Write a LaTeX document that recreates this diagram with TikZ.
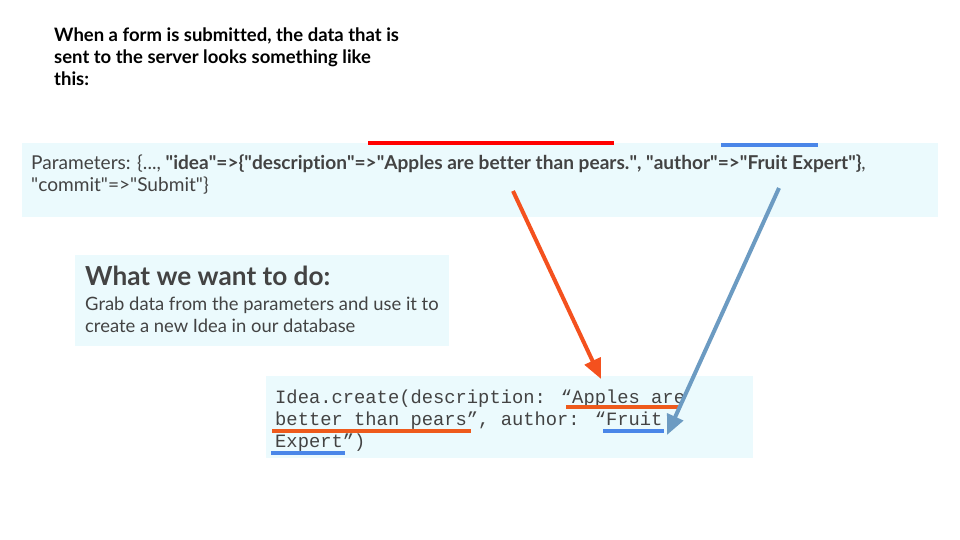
\documentclass[tikz,border=0pt]{standalone}
\usepackage{fontspec}
\setmainfont{Lato}[Ligatures=NoCommon]
\newfontfamily\codefont{Liberation Mono}
\usetikzlibrary{arrows.meta}
\newcommand\dq{\textquotedbl}
\definecolor{boxfill}{HTML}{EBFAFD}
\definecolor{txtgrey}{HTML}{434343}
\definecolor{arrorange}{HTML}{F4511E}
\definecolor{arrblue}{HTML}{6C9BC2}
\definecolor{ulblue}{HTML}{4A86E8}
\definecolor{ulorange}{HTML}{EE5A1C}
\tikzset{
  panel/.style={fill=boxfill, draw=none},
  txt/.style={anchor=north west, inner sep=0pt, align=left, text=txtgrey},
  bigarrow/.style={line width=4pt, -{Triangle[length=20pt,width=17pt]}},
  uline/.style={line width=3.5pt},
}
\begin{document}
\begin{tikzpicture}[x=1pt,y=-1pt]
\useasboundingbox (0,0) rectangle (960,540);
% title
\node[txt, text=black, font=\fontsize{18.5}{22}\selectfont\bfseries] (title) at (54,28)
  {When a form is submitted, the data that is\\sent to the server looks something like\\this:};
% parameters panel
\fill[panel] (22,143) rectangle (938,217);
\node[txt, font=\fontsize{19.1}{22}\selectfont] (params) at (31,155)
  {Parameters: \{..., \textbf{\dq idea\dq=>\{\dq description\dq=>\dq Apples are better than pears.\dq, \dq author\dq=>\dq Fruit Expert\dq\}},\\\dq commit\dq=>\dq Submit\dq\}};
\draw[red, line width=4pt] (368,143) coordinate (r1) -- (614,143) coordinate (r2);
\draw[ulblue, line width=4pt] (721,145) coordinate (b1) -- (818,145) coordinate (b2);
% what we want panel
\fill[panel] (75,255) rectangle (449,346);
\node[txt, font=\fontsize{26.2}{28}\selectfont\bfseries] (whathd) at (85,265.5) {What we want to do:};
\node[txt, font=\fontsize{18.4}{22}\selectfont] (whatbody) at (85,297)
  {Grab data from the parameters and use it to\\create a new Idea in our database};
% code panel
\fill[panel] (266,376) rectangle (753,458);
\node[txt, font=\fontsize{18.8}{22}\codefont] (code) at (275,390)
  {Idea.create(description: “Apples are\\better than pears”, author: “Fruit\\Expert”)};
\draw[ulorange, uline] (566,407) coordinate (u1a) -- (680,407) coordinate (u1b);
\draw[ulorange, uline] (272,431) coordinate (u2a) -- (471,431) coordinate (u2b);
\draw[ulblue, uline] (603,431) coordinate (u3a) -- (664,431) coordinate (u3b);
\draw[ulblue, uline] (271,453) coordinate (u4a) -- (345,453) coordinate (u4b);
% arrows
\coordinate (oa) at (513,191);
\coordinate (ob) at (601,379);
\coordinate (ba) at (779,188);
\coordinate (bb) at (667,435);
\draw[arrorange, bigarrow] (oa) -- (ob);
\draw[arrblue, bigarrow] (ba) -- (bb);
\end{tikzpicture}
\end{document}
